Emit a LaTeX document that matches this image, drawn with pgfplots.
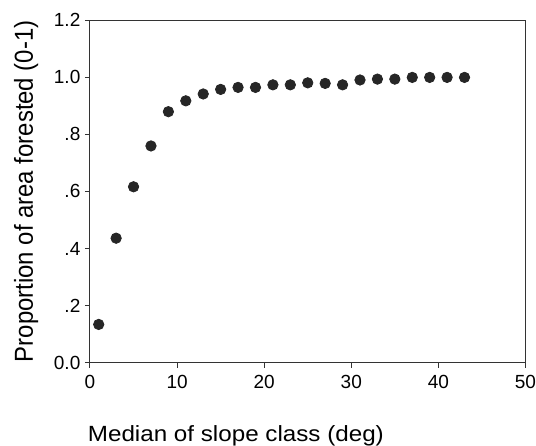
\documentclass[border=0pt]{standalone}
\usepackage{pgfplots}
\pgfplotsset{compat=1.18}
\usepackage{fontspec}
\setmainfont{Liberation Sans}
\newfontfamily\xlabfont[FakeStretch=1.1]{Liberation Sans}
\newfontfamily\ylabfont[FakeStretch=0.92]{Liberation Sans}
\begin{document}
\begin{tikzpicture}
\begin{axis}[
  at={(0,0)}, anchor=south west,
  width=217.75pt, height=171.35pt, scale only axis,
  xmin=0, xmax=50, ymin=0, ymax=1.2,
  axis line style={draw=black!80, line width=0.5pt},
  tick align=outside, xtick pos=bottom, ytick pos=left,
  major tick length=2.5pt,
  tick style={draw=black!80, line width=0.5pt},
  xtick={0,10,20,30,40,50}, xticklabels={0,10,20,30,40,50},
  ytick={0,0.2,0.4,0.6,0.8,1.0,1.2},
  yticklabels={0.0,.2,.4,.6,.8,1.0,1.2},
  tick label style={font=\fontsize{9.5}{11}\selectfont},
  yticklabel style={xshift=1.2pt},
  xlabel={Median of slope class (deg)},
  xlabel style={font=\xlabfont\fontsize{11}{13}\selectfont, at={(axis description cs:0.335,-0.2305)}, anchor=base},
  ylabel={Proportion of area forested (0-1)},
  ylabel style={font=\ylabfont\fontsize{13}{15}\selectfont, at={(axis description cs:-0.131,0.5)}, anchor=base, rotate=0},
  clip=false,
]
\addplot[only marks, mark=*, mark size=2.6pt, mark options={fill=black!85, draw=black!85}] coordinates {
(1,0.134) (3,0.436) (5,0.616) (7,0.759) (9,0.879) (11,0.917) (13,0.941)
(15,0.957) (17,0.964) (19,0.964) (21,0.973) (23,0.973) (25,0.980)
(27,0.978) (29,0.973) (31,0.990) (33,0.993) (35,0.993) (37,0.999)
(39,0.999) (41,0.999) (43,0.999)
};
\end{axis}
\pgfresetboundingbox
\path (-45pt,-41.15pt) rectangle (223pt,181.35pt);
\end{tikzpicture}
\end{document}
